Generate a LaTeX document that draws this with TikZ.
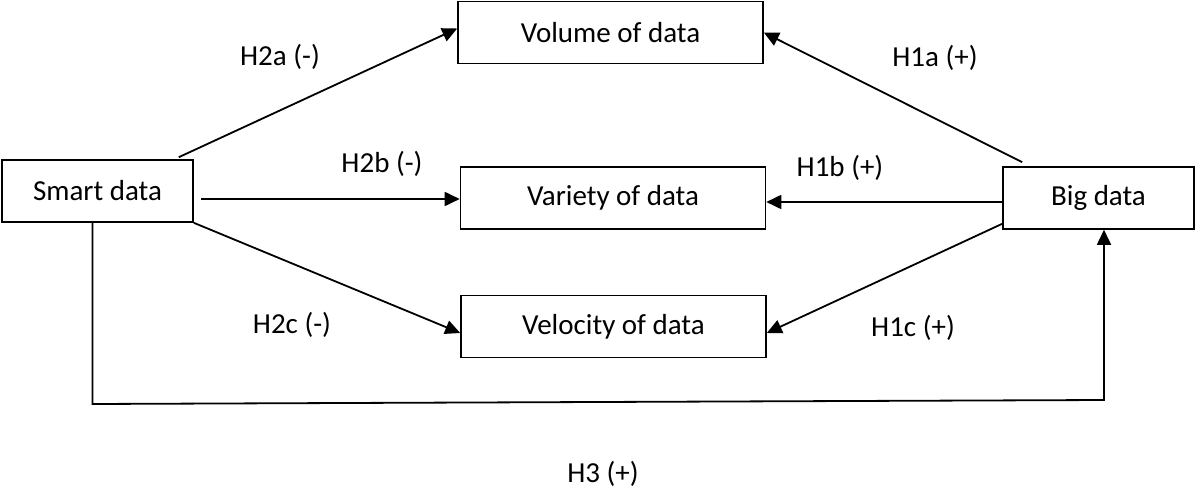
\documentclass[tikz,border=0pt]{standalone}
\usepackage{fontspec}
\setmainfont{Carlito}
\usetikzlibrary{arrows.meta}

\begin{document}
\begin{tikzpicture}[x=1pt,y=-1pt,
    font=\fontsize{29}{35}\selectfont,
    box/.style={draw,line width=1.6pt,inner sep=0pt,minimum width=305pt,minimum height=62pt},
    link/.style={line width=1.8pt,-{Triangle[length=15pt,width=14pt]}}]
    \useasboundingbox (0,0) rectangle (1195,489);

    \node[box] (vol) at (610.5,32.5) {Volume of data};
    \node[box] (var) at (613,198) {Variety of data};
    \node[box] (vel) at (613.5,326.5) {Velocity of data};
    \node[box,minimum width=191pt] (smart) at (97.5,191) {Smart data};
    \node[box,minimum width=191pt] (big) at (1098.5,198) {Big data};

    \node[anchor=base] (h2a) at (280,66) {H2a (-)};
    \node[anchor=base] (h2b) at (382,173) {H2b (-)};
    \node[anchor=base] (h2c) at (292,334) {H2c (-)};
    \node[anchor=base] (h1a) at (935,67) {H1a (+)};
    \node[anchor=base] (h1b) at (840,177) {H1b (+)};
    \node[anchor=base] (h1c) at (913,337) {H1c (+)};
    \node[anchor=base] (h3) at (603,482) {H3 (+)};

    \draw[link] ([xshift=-15pt,yshift=2pt]smart.north east) -- ([yshift=4pt]vol.west);
    \draw[link] ([xshift=7pt,yshift=-8pt]smart.east) -- ([yshift=-1pt]var.west);
    \draw[link] (smart.south east) -- ([yshift=-6.5pt]vel.west);

    \draw[link] ([xshift=20pt,yshift=4pt]big.north west) -- (vol.east);
    \draw[link] ([yshift=-4pt]big.west) -- ([yshift=-4pt]var.east);
    \draw[link] ([yshift=6pt]big.south west) -- ([yshift=-6.5pt]vel.east);

    \coordinate (bl) at (92.5,404);
    \coordinate (br) at (1104,400);
    \draw[link] ([xshift=-5pt]smart.south) -- (bl) -- (br) -- ([xshift=5.5pt]big.south);
\end{tikzpicture}
\end{document}
